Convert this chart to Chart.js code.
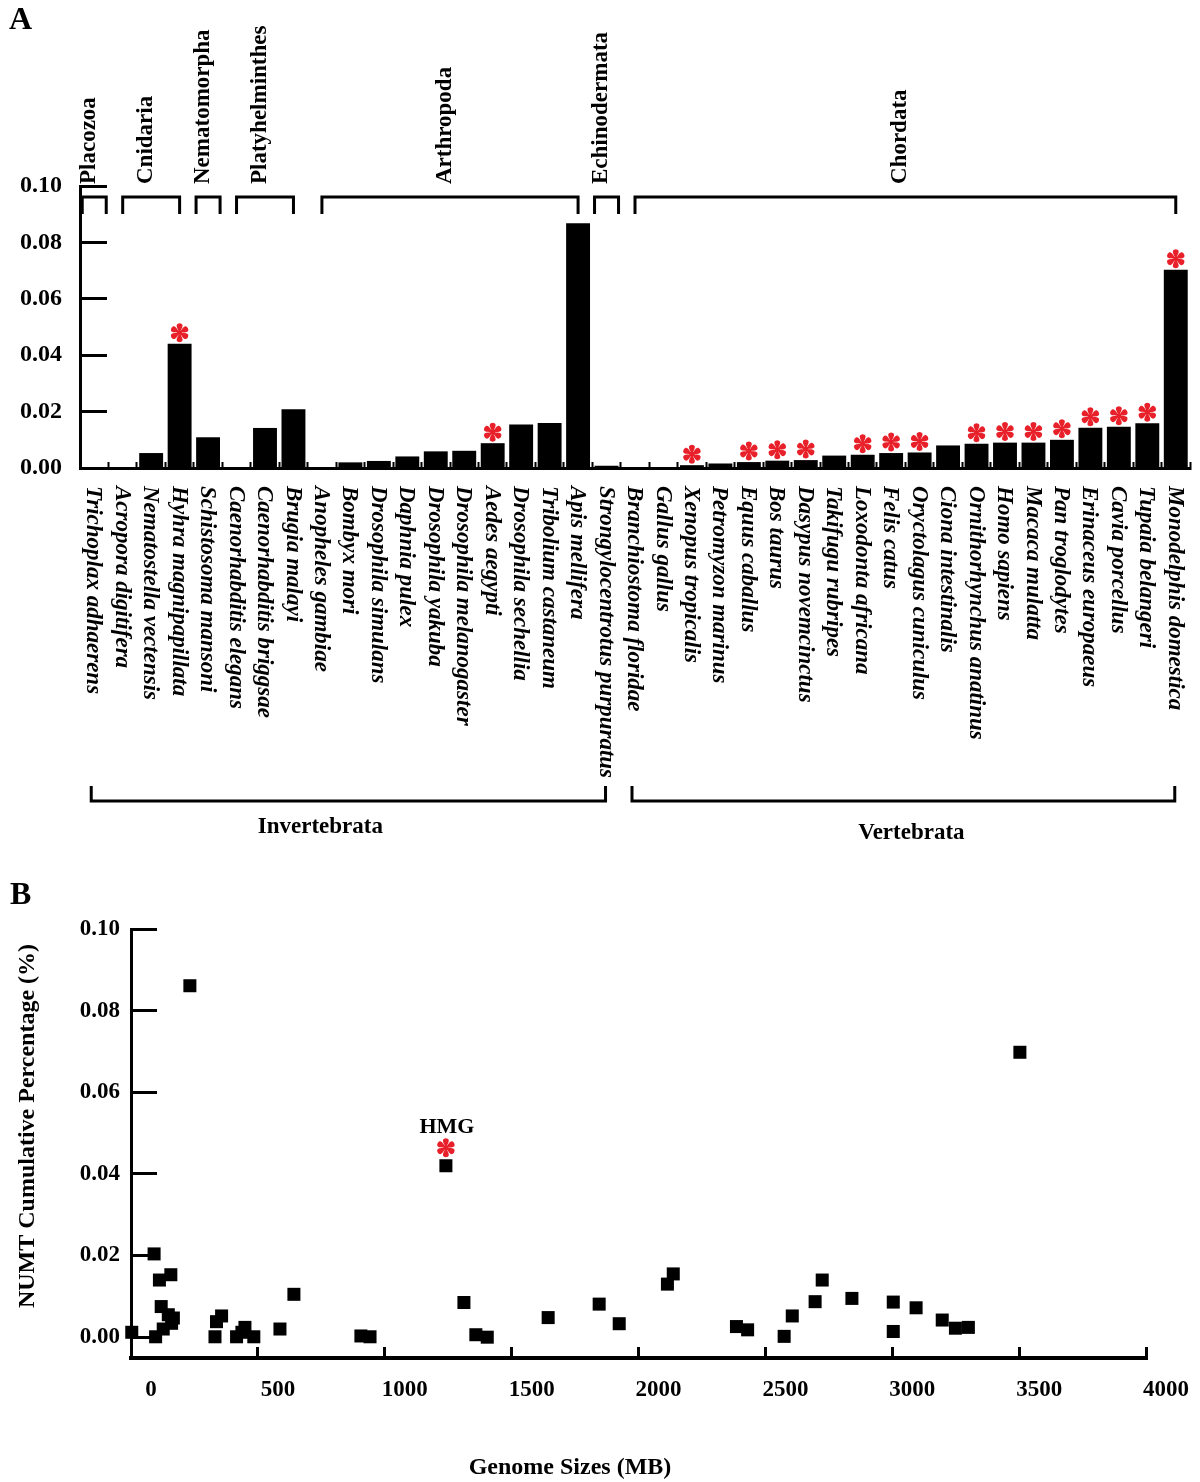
<!DOCTYPE html>
<html>
<head>
<meta charset="utf-8">
<script src="https://cdn.jsdelivr.net/npm/chart.js@4/dist/chart.umd.min.js"></script>
<style>
  html, body { margin: 0; padding: 0; background: #fff; }
  #page { position: relative; width: 1200px; height: 1482px; overflow: hidden; }
  .panel-letter { position: absolute; font: bold 32px 'Liberation Serif', serif; color: #000; }
  #wrapA { position: absolute; left: 0; top: 0; }
  #wrapB { position: absolute; left: 0; top: 870px; }
</style>
</head>
<body>
<div id="page">
  <div id="wrapA"><canvas id="chartA" width="1200" height="870"></canvas></div>
  <div id="wrapB"><canvas id="chartB" width="1200" height="612"></canvas></div>
  <div class="panel-letter" style="left:9px; top:0px;">A</div>
  <div class="panel-letter" style="left:10px; top:875px;">B</div>
</div>
<script>
/* ---------- Panel A data ---------- */
const species = [
  'Trichoplax adhaerens', 'Acropora digitifera', 'Nematostella vectensis', 'Hyhra magnipapillata',
  'Schistosoma mansoni', 'Caenorhabditis elegans', 'Caenorhabditis briggsae', 'Brugia malayi',
  'Anopheles gambiae', 'Bombyx mori', 'Drosophila simulans', 'Daphnia pulex', 'Drosophila yakuba',
  'Drosophila melanogaster', 'Aedes aegypti', 'Drosophila sechellia', 'Tribolium castaneum',
  'Apis mellifera', 'Strongylocentrotus purpuratus', 'Branchiostoma floridae', 'Gallus gallus',
  'Xenopus tropicalis', 'Petromyzon marinus', 'Equus caballus', 'Bos taurus', 'Dasypus novemcinctus',
  'Takifugu rubripes', 'Loxodonta africana', 'Felis catus', 'Oryctolagus cuniculus', 'Ciona intestinalis',
  'Ornithorhynchus anatinus', 'Homo sapiens', 'Macaca mulatta', 'Pan troglodytes', 'Erinaceus europaeus',
  'Cavia porcellus', 'Tupaia belangeri', 'Monodelphis domestica'
];
const numtPercent = [
  0.0003, 0.0002, 0.0053, 0.0441, 0.0109, 0.0003, 0.0142, 0.0208,
  0.0002, 0.0020, 0.0025, 0.0041, 0.0059, 0.0061, 0.0088, 0.0154, 0.0160,
  0.0868, 0.0008, 0.0003, 0.0003, 0.0010, 0.0016, 0.0021, 0.0026, 0.0028,
  0.0044, 0.0047, 0.0053, 0.0055, 0.0080, 0.0086, 0.0090, 0.0090, 0.0100, 0.0143,
  0.0146, 0.0159, 0.0703
];
const starredSpecies = [
  'Hyhra magnipapillata', 'Aedes aegypti', 'Xenopus tropicalis', 'Equus caballus', 'Bos taurus',
  'Dasypus novemcinctus', 'Loxodonta africana', 'Felis catus', 'Oryctolagus cuniculus',
  'Ornithorhynchus anatinus', 'Homo sapiens', 'Macaca mulatta', 'Pan troglodytes',
  'Erinaceus europaeus', 'Cavia porcellus', 'Tupaia belangeri', 'Monodelphis domestica'
];
const phylumNames = ['Placozoa', 'Cnidaria', 'Nematomorpha', 'Platyhelminthes', 'Arthropoda', 'Echinodermata', 'Chordata'];
const phylumFirst = [0, 1, 4, 5, 8, 18, 19];
const phylumLast  = [0, 3, 4, 7, 17, 18, 38];
const groupNames = ['Invertebrata', 'Vertebrata'];
const groupFirst = [0, 19];
const groupLast  = [18, 38];

/* ---------- Panel B data ---------- */
const genomeSizes = [
  3, 91, 112, 157, 119, 147, 167, 160, 127, 97,
  331, 337, 357, 416, 437, 449, 484, 587, 642, 906, 942,
  232, 1241, 1312, 1359, 1404, 1644, 1845, 1924, 2137, 2114,
  2386, 2430, 2574, 2606, 2696, 2724, 2841, 3004, 3004, 3094,
  3197, 3249, 3300, 3503
];
const numtCumulative = [
  0.0012, 0.0204, 0.0140, 0.0153, 0.0075, 0.0055, 0.0047, 0.0034, 0.0020, 0.0001,
  0.0001, 0.0038, 0.0052, 0.0001, 0.0012, 0.0024, 0.0001, 0.0020, 0.0105, 0.0003, 0.0001,
  0.0861, 0.0420, 0.0085, 0.0006, 0.0000, 0.0048, 0.0081, 0.0033, 0.0155, 0.0130,
  0.0026, 0.0018, 0.0002, 0.0052, 0.0087, 0.0140, 0.0095, 0.0086, 0.0014, 0.0072,
  0.0042, 0.0022, 0.0024, 0.0698
];
const yTicksB = [0, 0.02, 0.04, 0.06, 0.08, 0.10];
const xTicksB = [0, 500, 1000, 1500, 2000, 2500, 3000, 3500, 4000];
const highlightLabel = 'HMG';
const highlightIndex = 22;

const SERIF = "'Liberation Serif', 'Times New Roman', serif";
const STAR_RED = '#e8202a';
Chart.defaults.font.family = SERIF;
Chart.defaults.color = '#000';

// red six-petal asterisk used to flag species
function drawAsterisk(ctx, cx, cy, r) {
    ctx.save();
    ctx.translate(cx, cy);
    ctx.fillStyle = STAR_RED;
    for (let k = 0; k < 6; k++) {
        ctx.save();
        ctx.rotate(k * Math.PI / 3);
        ctx.beginPath();
        ctx.moveTo(0, 0);
        ctx.bezierCurveTo(-r * 0.15, -r * 0.35, -r * 0.62, -r * 0.95, 0, -r);
        ctx.bezierCurveTo(r * 0.62, -r * 0.95, r * 0.15, -r * 0.35, 0, 0);
        ctx.fill();
        ctx.restore();
    }
    ctx.beginPath();
    ctx.arc(0, 0, r * 0.25, 0, Math.PI * 2);
    ctx.fill();
    ctx.restore();
}

function bracketDown(ctx, x1, x2, y, leg) {
    ctx.beginPath();
    ctx.moveTo(x1, y + leg);
    ctx.lineTo(x1, y);
    ctx.lineTo(x2, y);
    ctx.lineTo(x2, y + leg);
    ctx.stroke();
}

const panelADecor = {
    id: 'panelADecor',
    afterDraw(chart) {
        const ctx = chart.ctx;
        const xs = chart.scales.x;
        const meta = chart.getDatasetMeta(0);
        ctx.save();

        // asterisks above flagged bars
        meta.data.forEach((bar, i) => {
            if (starredSpecies.includes(species[i])) drawAsterisk(ctx, bar.x, bar.y - 11, 9.5);
        });

        // species names, rotated clockwise
        ctx.fillStyle = '#000';
        ctx.font = 'italic bold 23px ' + SERIF;
        ctx.textAlign = 'left';
        ctx.textBaseline = 'middle';
        species.forEach((name, i) => {
            ctx.save();
            ctx.translate(xs.getPixelForValue(i) - 1, 486);
            ctx.rotate(Math.PI / 2);
            ctx.fillText(name, 0, 0);
            ctx.restore();
        });

        // phylum brackets and names
        ctx.strokeStyle = '#000';
        ctx.lineWidth = 3;
        ctx.lineCap = 'butt';
        ctx.font = 'bold 23px ' + SERIF;
        phylumNames.forEach((name, k) => {
            let x1 = xs.getPixelForValue(phylumFirst[k]);
            let x2 = xs.getPixelForValue(phylumLast[k]);
            if (phylumFirst[k] === phylumLast[k]) { x1 -= 12; x2 += 12; }
            bracketDown(ctx, x1, x2, 197, 17);
            ctx.save();
            ctx.translate((x1 + x2) / 2 - 5, 184);
            ctx.rotate(-Math.PI / 2);
            ctx.textAlign = 'left';
            ctx.fillText(name, 0, 0);
            ctx.restore();
        });

        // Invertebrata / Vertebrata brackets
        const labelShift = [-28, 8];
        const labelY = [827, 833];
        groupNames.forEach((name, k) => {
            const x1 = xs.getPixelForValue(groupFirst[k]) - 3;
            const x2 = xs.getPixelForValue(groupLast[k]) - 1;
            ctx.beginPath();
            ctx.moveTo(x1, 786);
            ctx.lineTo(x1, 801);
            ctx.lineTo(x2, 801);
            ctx.lineTo(x2, 786);
            ctx.stroke();
            ctx.textAlign = 'center';
            ctx.fillText(name, (x1 + x2) / 2 + labelShift[k], labelY[k]);
        });
        ctx.restore();
    }
};

new Chart(document.getElementById('chartA'), {
    type: 'bar',
    data: {
        labels: species,
        datasets: [{
            data: numtPercent,
            backgroundColor: '#000',
            borderWidth: 0,
            barPercentage: 0.84,
            categoryPercentage: 1,
        }]
    },
    options: {
        responsive: false,
        animation: false,
        layout: { padding: { top: 186, right: 10, bottom: 402, left: 0 } },
        plugins: { legend: { display: false }, tooltip: { enabled: false } },
        scales: {
            x: {
                ticks: { display: false },
                grid: { drawOnChartArea: false, drawTicks: true, tickLength: -6, tickWidth: 2, tickColor: '#000', offset: true },
                border: { display: true, color: '#000', width: 3 },
                afterFit: s => { s.height = 0; },
            },
            y: {
                min: 0,
                max: 0.1,
                ticks: {
                    stepSize: 0.02,
                    padding: 45,
                    color: '#000',
                    font: { family: SERIF, size: 24, weight: 'bold' },
                    callback: v => v.toFixed(2),
                },
                grid: { drawOnChartArea: false, drawTicks: true, tickLength: -27, tickWidth: 3, tickColor: '#000' },
                border: { display: true, color: '#000', width: 3 },
                afterFit: s => { s.width = 80; },
            }
        }
    },
    plugins: [panelADecor]
});

const panelBDecor = {
    id: 'panelBDecor',
    afterDraw(chart) {
        const ctx = chart.ctx;
        const pt = chart.getDatasetMeta(0).data[highlightIndex];
        ctx.save();
        drawAsterisk(ctx, pt.x, pt.y - 18, 9.5);
        ctx.fillStyle = '#000';
        ctx.font = 'bold 22px ' + SERIF;
        ctx.textAlign = 'center';
        ctx.textBaseline = 'middle';
        ctx.fillText(highlightLabel, pt.x + 1, pt.y - 38);

        // axis titles
        ctx.font = 'bold 24px ' + SERIF;
        ctx.fillText('Genome Sizes (MB)', 570, 598);
        ctx.save();
        ctx.translate(28, 256);
        ctx.rotate(-Math.PI / 2);
        ctx.fillText('NUMT Cumulative Percentage (%)', 0, 0);
        ctx.restore();
        ctx.restore();
    }
};

new Chart(document.getElementById('chartB'), {
    type: 'scatter',
    data: {
        datasets: [{
            data: genomeSizes.map((g, i) => ({ x: g, y: numtCumulative[i] })),
            pointStyle: 'rect',
            pointRadius: 9.2,
            backgroundColor: '#000',
            borderWidth: 0,
            clip: false,
        }]
    },
    options: {
        responsive: false,
        animation: false,
        layout: { padding: { top: 59, right: 54, bottom: 0, left: 0 } },
        plugins: { legend: { display: false }, tooltip: { enabled: false } },
        scales: {
            x: {
                type: 'linear',
                min: 0,
                max: 4000,
                afterBuildTicks: s => { s.ticks = xTicksB.map(v => ({ value: v })); },
                ticks: {
                    labelOffset: 20,
                    padding: 29,
                    color: '#000',
                    font: { family: SERIF, size: 23, weight: 'bold' },
                    callback: v => String(v),
                },
                grid: { drawOnChartArea: false, drawTicks: true, tickLength: -11, tickWidth: 3, tickColor: '#000' },
                border: { display: true, color: '#000', width: 4 },
                afterFit: s => { s.height = 124; },
            },
            y: {
                min: -0.0051,
                max: 0.1,
                afterBuildTicks: s => { s.ticks = yTicksB.map(v => ({ value: v })); },
                ticks: {
                    padding: 37,
                    color: '#000',
                    font: { family: SERIF, size: 23, weight: 'bold' },
                    callback: v => v.toFixed(2),
                },
                grid: { drawOnChartArea: false, drawTicks: true, tickLength: -26, tickWidth: 3, tickColor: '#000' },
                border: { display: true, color: '#000', width: 3 },
                afterFit: s => { s.width = 131; },
            }
        }
    },
    plugins: [panelBDecor]
});
</script>
</body>
</html>
